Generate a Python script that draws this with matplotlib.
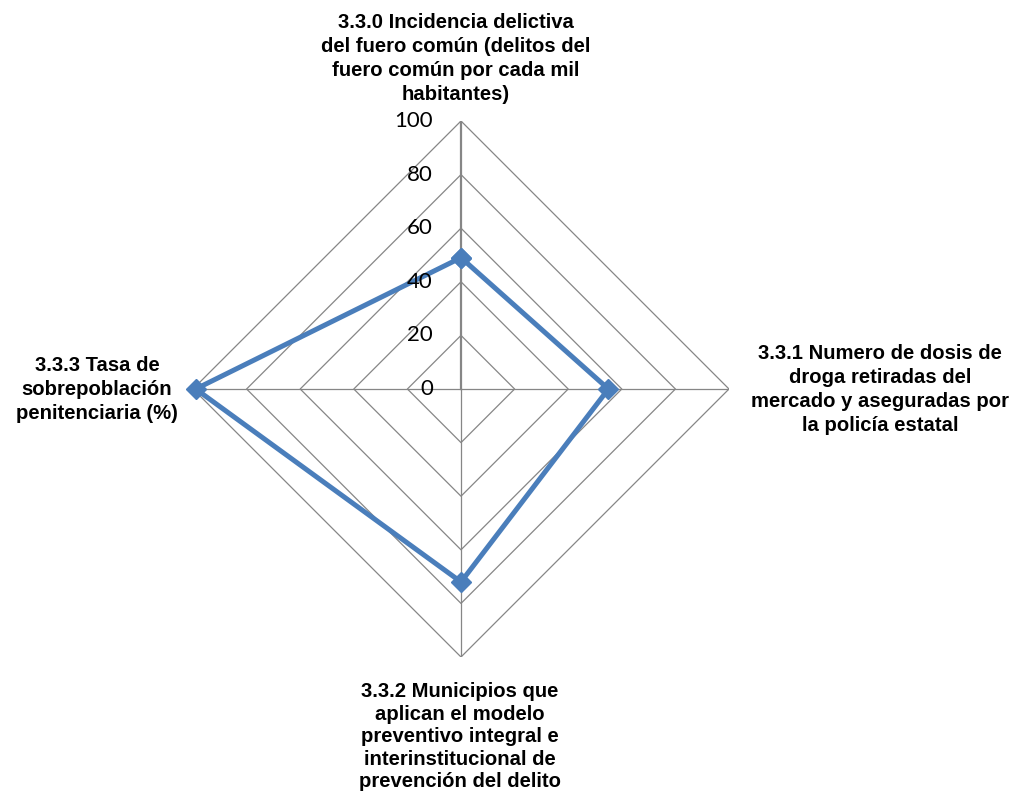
import numpy as np
import matplotlib
matplotlib.use("Agg")
import matplotlib.pyplot as plt
from matplotlib.transforms import ScaledTranslation

categories = [
    "3.3.0 Incidencia delictiva\ndel fuero común (delitos del\nfuero común por cada mil\nhabitantes)",
    "3.3.1 Numero de dosis de\ndroga retiradas del\nmercado y aseguradas por\nla policía estatal",
    "3.3.2 Municipios que\naplican el modelo\npreventivo integral e\ninterinstitucional de\nprevención del delito",
    "3.3.3 Tasa de\nsobrepoblación\npenitenciaria (%)",
]
values = [49, 55, 72, 99]
levels = [0, 20, 40, 60, 80, 100]
tick_labels = ["0", "20", "40", "60", "80", "100"]

W, H = 1018, 791
fig = plt.figure(figsize=(W / 100, H / 100), dpi=100)
cx, cy, R = 461, 389, 268
ax = fig.add_axes([(cx - R) / W, (H - cy - R) / H, 2 * R / W, 2 * R / H], projection="polar")
ax.set_theta_offset(np.pi / 2)
ax.set_theta_direction(-1)
ax.set_ylim(0, 100)
ax.grid(False)
ax.set_xticks([])
ax.set_yticks([])
ax.spines["polar"].set_visible(False)
ax.patch.set_visible(False)

n = len(categories)
angles = [2 * np.pi * i / n for i in range(n)]
closed = angles + [angles[0]]

grid_color = "#868686"
for lv in levels[1:]:
    ax.plot(closed, [lv] * (n + 1), color=grid_color, lw=0.9, zorder=1)
for i, a in enumerate(angles):
    ax.plot([a, a], [0, 100], color=grid_color, lw=1.6 if i == 0 else 0.9, zorder=1)

ax.plot(closed, values + [values[0]], color="#4A7EBB", lw=3.6, marker="D",
        markersize=10, markerfacecolor="#4A7EBB", markeredgecolor="#4A7EBB", zorder=3,
        clip_on=False)

off = ScaledTranslation(-28 / 100, 0, fig.dpi_scale_trans)
for lv, lab in zip(levels, tick_labels):
    ax.text(0, lv, lab, transform=ax.transData + off, ha="right", va="center",
            fontsize=16, family="Lato", color="black", zorder=4)

lab_kw = dict(fontsize=14.6, fontweight="bold", family="Liberation Sans",
              ha="center", color="black")
fig.text(456 / W, 1 - 13 / H, categories[0], va="top", linespacing=1.33, **lab_kw)
fig.text(880 / W, 1 - 344 / H, categories[1], va="top", linespacing=1.33, **lab_kw)
fig.text(460 / W, 1 - 682 / H, categories[2], va="top", linespacing=1.24, **lab_kw)
fig.text(97 / W, 1 - 356 / H, categories[3], va="top", linespacing=1.33, **lab_kw)

fig.savefig("out.png", dpi=100)
